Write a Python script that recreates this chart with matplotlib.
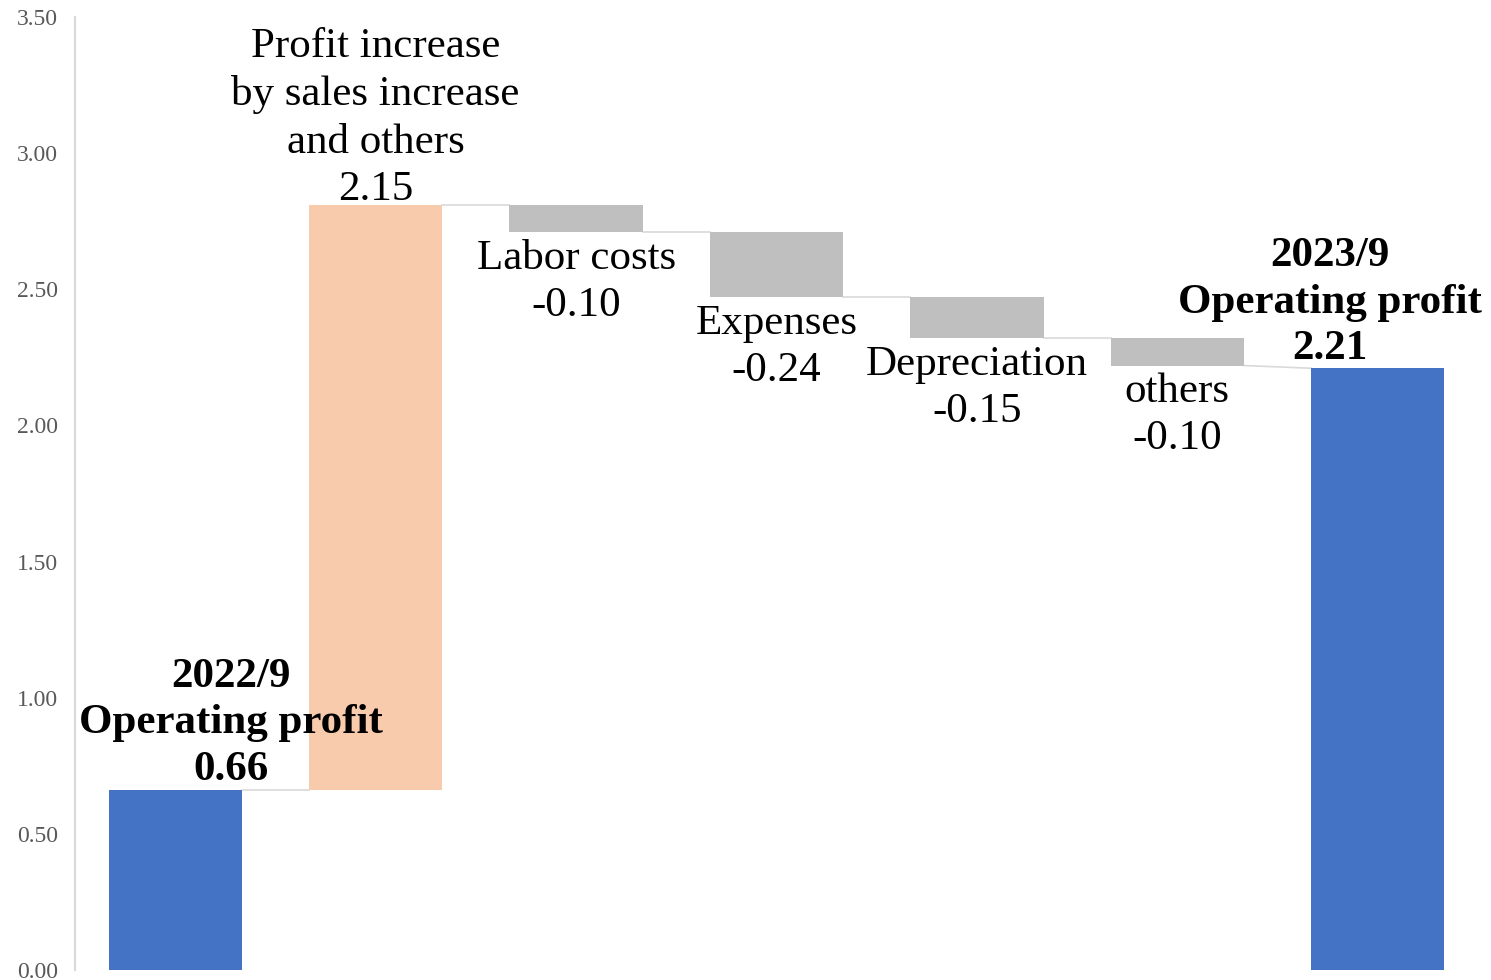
import matplotlib.pyplot as plt

# waterfall data
labels = ["2022/9\nOperating profit", "Profit increase\nby sales increase\nand others",
          "Labor costs", "Expenses", "Depreciation", "others",
          "2023/9\nOperating profit"]
start_value = 0.66
deltas = [2.15, -0.10, -0.24, -0.15, -0.10]
end_value = 2.21
y_ticks = [0.0, 0.5, 1.0, 1.5, 2.0, 2.5, 3.0, 3.5]

blue = "#4472C4"
peach = "#F8CBAD"
grey = "#BFBFBF"
line_col = "#D9D9D9"

plt.rcParams['font.family'] = ['Liberation Serif', 'DejaVu Serif']

fig = plt.figure(figsize=(14.91, 9.80), dpi=100)
ax = fig.add_axes([75 / 1491, 10 / 980, 1403 / 1491, 953 / 980])

width = 0.665
bottoms, heights, colors, levels_in, levels_out = [], [], [], [], []

# first total
bottoms.append(0)
heights.append(start_value)
colors.append(blue)
levels_in.append(start_value)
levels_out.append(start_value)

level = start_value
for d in deltas:
    new = level + d
    bottoms.append(min(level, new))
    heights.append(abs(d))
    colors.append(peach if d > 0 else grey)
    levels_in.append(level)
    levels_out.append(new)
    level = new

# last total
bottoms.append(0)
heights.append(end_value)
colors.append(blue)
levels_in.append(end_value)
levels_out.append(end_value)

xs = list(range(len(labels)))
ax.bar(xs, heights, width=width, bottom=bottoms, color=colors, zorder=2)

# connector lines between bars
for i in range(len(xs) - 1):
    ax.plot([xs[i] + width / 2, xs[i + 1] - width / 2],
            [levels_out[i], levels_in[i + 1]],
            color=line_col, lw=1.2, zorder=1)

fs = 31
ls = 1.3

# labels
ax.annotate(f"{labels[0]}\n{start_value:.2f}", (xs[0] + 0.28, start_value),
            xytext=(0, 1), textcoords="offset points",
            ha="center", va="bottom", fontsize=fs, fontweight="bold",
            multialignment="center", linespacing=ls, zorder=3)
ax.annotate(f"{labels[-1]}\n{end_value:.2f}", (xs[-1] - 0.24, end_value),
            xytext=(0, 0), textcoords="offset points",
            ha="center", va="bottom", fontsize=fs, fontweight="bold",
            multialignment="center", linespacing=ls, zorder=3)

for i, d in enumerate(deltas, start=1):
    txt = f"{labels[i]}\n{d:.2f}"
    if d > 0:
        ax.annotate(txt, (xs[i], bottoms[i] + heights[i]),
                    xytext=(0, -3), textcoords="offset points",
                    ha="center", va="bottom", fontsize=fs,
                    multialignment="center", linespacing=ls, zorder=3)
    else:
        ax.annotate(txt, (xs[i], bottoms[i]),
                    xytext=(0, -5), textcoords="offset points",
                    ha="center", va="top", fontsize=fs,
                    multialignment="center", linespacing=ls, zorder=3)

ax.set_xlim(-0.5, 6.5)
ax.set_ylim(0, 3.5)
ax.set_yticks(y_ticks)
ax.set_yticklabels([f"{t:.2f}" for t in y_ticks], fontsize=17, color="#595959")
ax.set_xticks([])
ax.tick_params(axis="y", length=0, pad=12)
for s in ["top", "right", "bottom"]:
    ax.spines[s].set_visible(False)
ax.spines["left"].set_color("#D9D9D9")
ax.spines["left"].set_linewidth(1.5)

fig.savefig("out.png", dpi=100)
